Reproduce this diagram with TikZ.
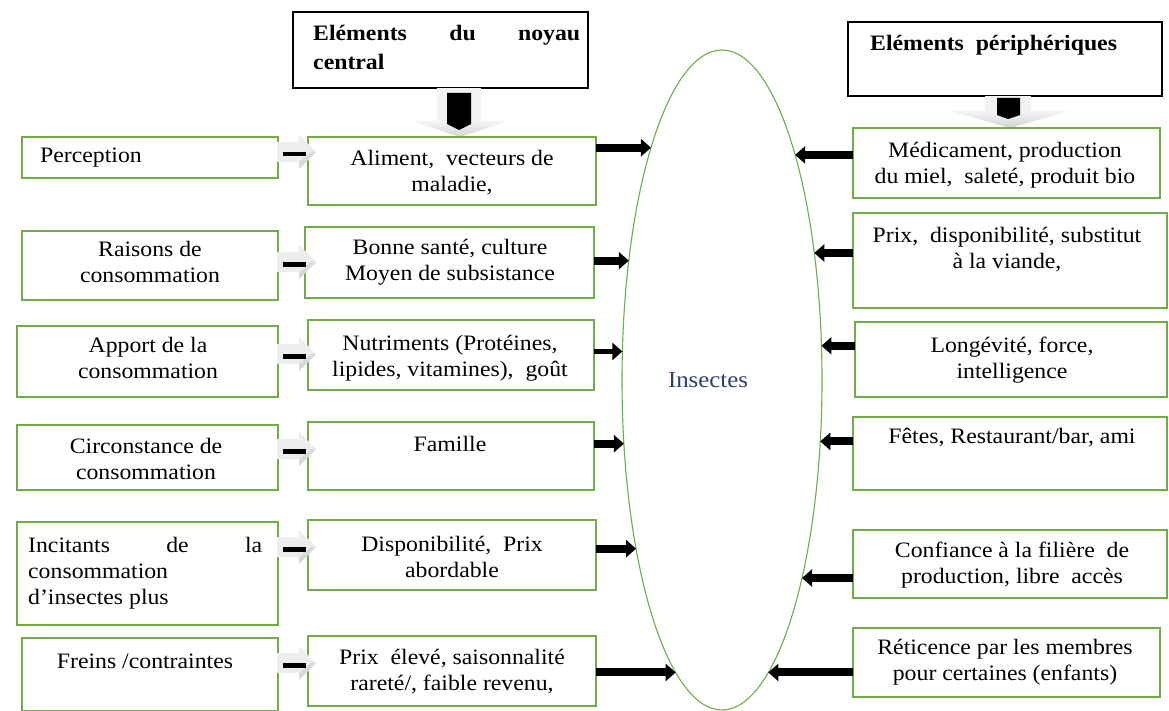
\documentclass[tikz,border=0pt]{standalone}
\usepackage{fontspec}
\setmainfont{Liberation Serif}[FakeStretch=1.08]
\usetikzlibrary{shapes.geometric,arrows.meta,calc}
\definecolor{boxgreen}{RGB}{112,173,71}
\definecolor{insblue}{RGB}{47,64,110}
\tikzset{
  gbox/.style={draw=boxgreen, line width=1.3pt, inner sep=0pt, outer sep=0pt, anchor=north west},
  hbox/.style={draw=black, line width=1.3pt, inner sep=0pt, outer sep=0pt, anchor=north west},
  txt/.style={inner sep=0pt, align=center},
  conn/.style={draw=black, line width=8pt, -{Triangle[length=10pt,width=17pt]}},
  dbl/.pic={
    \fill[gray!14] (-19,-10) -- (3,-10) -- (3,-17) -- (20,0) -- (3,17) -- (3,10) -- (-19,10) -- cycle;
    \fill[gray!30] (3,10) -- (3,17) -- (20,0) -- (15,0) -- cycle;
    \fill[black] (-13,0) rectangle (10,4.5);
  }
}
\begin{document}
\begin{tikzpicture}[x=1pt,y=-1pt,font=\fontsize{22}{26}\selectfont]
\useasboundingbox (0,0) rectangle (1169,711);

% header boxes
\node[hbox, minimum width=295pt, minimum height=76pt] (H1) at (293,12) {};
\node[hbox, minimum width=314pt, minimum height=74pt] (H2) at (848,22) {};
\node[txt, anchor=west, align=left, font=\fontsize{22}{29}\selectfont\bfseries] (H1t) at (313,47)
  {\hbox to 267pt{Eléments\hfill du\hfill noyau}\\central};
\node[txt, anchor=west, font=\fontsize{22}{26}\selectfont\bfseries] (H2t) at (870,45) {Eléments\ \ périphériques};

% block arrows below headers
\fill[gray!10] (437,88) rectangle (481,121);
\shade[top color=gray!8, bottom color=gray!35] (412,121) -- (508,121) -- (460,137) -- cycle;
\fill[black] (447,93) -- (471,93) -- (471,124) -- (459,130) -- (447,124) -- cycle;
\fill[gray!10] (985,96) rectangle (1031,111);
\shade[top color=gray!8, bottom color=gray!35] (950,111) -- (1070,111) -- (1010,128) -- cycle;
\fill[black] (997,98) -- (1020,98) -- (1020,115) -- (1008,119) -- (997,115) -- cycle;

% left column
\node[gbox, minimum width=256pt, minimum height=41pt] (L1) at (22,137) {};
\node[gbox, minimum width=256pt, minimum height=69pt] (L2) at (22,231) {};
\node[gbox, minimum width=261pt, minimum height=71pt] (L3) at (17,326) {};
\node[gbox, minimum width=261pt, minimum height=65pt] (L4) at (17,425) {};
\node[gbox, minimum width=261pt, minimum height=103pt] (L5) at (17,522) {};
\node[gbox, minimum width=256pt, minimum height=73pt] (L6) at (22,638) {};

\node[txt, anchor=west] (L1t) at (40,158) {Perception};
\node[txt] (L2t) at (150,262) {Raisons de\\consommation};
\node[txt] (L3t) at (148,358) {Apport de la\\consommation};
\node[txt] (L4t) at (146,459) {Circonstance de\\consommation};
\node[txt, anchor=west, align=left] (L5t) at (28,573) {\hbox to 234pt{Incitants\hfill de\hfill la}\\consommation\\d’insectes plus};
\node[txt] (L6t) at (145,661) {Freins /contraintes};

% middle column
\node[gbox, minimum width=288pt, minimum height=68pt] (M1) at (308,137) {};
\node[gbox, minimum width=289pt, minimum height=71pt] (M2) at (305,227) {};
\node[gbox, minimum width=286pt, minimum height=70pt] (M3) at (308,320) {};
\node[gbox, minimum width=286pt, minimum height=68pt] (M4) at (308,422) {};
\node[gbox, minimum width=288pt, minimum height=70pt] (M5) at (308,520) {};
\node[gbox, minimum width=288pt, minimum height=70pt] (M6) at (308,636) {};

\node[txt] (M1t) at (452,173) {Aliment,\ \ vecteurs de\\maladie,};
\node[txt] (M2t) at (450,262) {Bonne santé, culture\\Moyen de subsistance};
\node[txt] (M3t) at (450,358) {Nutriments (Protéines,\\lipides, vitamines),\ \ goût};
\node[txt] (M4t) at (450,444) {Famille};
\node[txt] (M5t) at (452,557) {Disponibilité,\ \ Prix\\abordable};
\node[txt] (M6t) at (452,672) {Prix\ \ élevé, saisonnalité\\rareté/, faible revenu,};

% gray double arrows
\pic at (296,152) {dbl};
\pic at (296,262) {dbl};
\pic at (296,354) {dbl};
\pic at (296,449) {dbl};
\pic at (296,547) {dbl};
\pic at (296,663) {dbl};

% right column
\node[gbox, minimum width=307pt, minimum height=70pt] (R1) at (853,128) {};
\node[gbox, minimum width=314pt, minimum height=95pt] (R2) at (853,213) {};
\node[gbox, minimum width=312pt, minimum height=75pt] (R3) at (855,322) {};
\node[gbox, minimum width=314pt, minimum height=73pt] (R4) at (853,417) {};
\node[gbox, minimum width=314pt, minimum height=68pt] (R5) at (853,530) {};
\node[gbox, minimum width=307pt, minimum height=69pt] (R6) at (853,628) {};

\node[txt] (R1t) at (1005,165) {Médicament, production\\du miel,\ \ saleté, produit bio};
\node[txt] (R2t) at (1007,250) {Prix,\ \ disponibilité, substitut\\à la viande,};
\node[txt] (R3t) at (1012,360) {Longévité, force,\\intelligence};
\node[txt] (R4t) at (1012,438) {Fêtes, Restaurant/bar, ami};
\node[txt] (R5t) at (1012,565) {Confiance à la filière\ \ de\\production, libre\ \ accès};
\node[txt] (R6t) at (1005,662) {Réticence par les membres\\pour certaines (enfants)};

% ellipse
\node[draw=boxgreen, line width=1.1pt, ellipse, minimum width=200pt, minimum height=660pt, inner sep=0pt, outer sep=0pt] (E) at (722,380) {};
\node[txt, text=insblue, font=\fontsize{23}{26}\selectfont] (Et) at (708,380) {Insectes};

% connectors to the ellipse
\draw[conn] (M1.east |- E.107.3) -- (E.107.3);
\draw[conn] (M2.east |- E.128.4) -- (E.128.4);
\draw[conn, line width=5.5pt] (M3.east |- E.164.3) -- (E.164.3);
\draw[conn] (M4.east |- E.213.96) -- (E.213.96);
\draw[conn] (M5.east |- E.243.4) -- (E.243.4);
\draw[conn] (M6.east |- E.261.8) -- (E.261.8);

\draw[conn] (R1.west |- E.72.7) -- (E.72.7);
\draw[conn] (R2.west |- E.54) -- (E.54);
\draw[conn] (R3.west |- E.19.4) -- (E.19.4);
\draw[conn] (R4.west |- E.328.2) -- (E.328.2);
\draw[conn] (R5.west |- E.292) -- (E.292);
\draw[conn] (R6.west |- E.279.6) -- (E.279.6);
\end{tikzpicture}
\end{document}
